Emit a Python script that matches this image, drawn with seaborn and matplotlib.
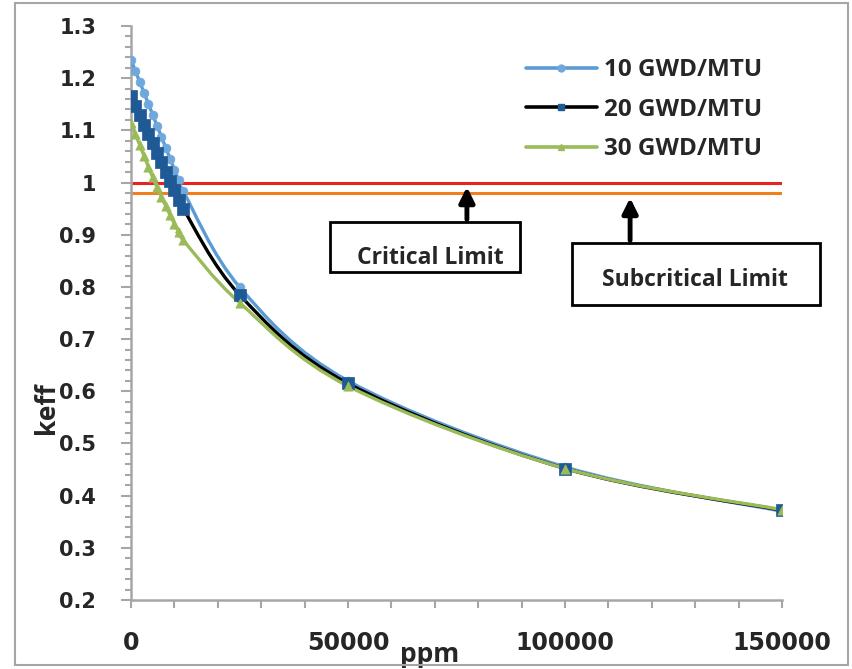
import numpy as np
import pandas as pd
import matplotlib
matplotlib.use("Agg")
import matplotlib.pyplot as plt
import seaborn as sns
from matplotlib.path import Path
from matplotlib.patches import PathPatch, Rectangle
from matplotlib.lines import Line2D
from matplotlib.ticker import MultipleLocator

# values
ppm = [0, 1000, 2000, 3000, 4000, 5000, 6000, 7000, 8000, 9000, 10000, 11000, 12000,
       25000, 50000, 100000, 150000]
keff_10 = [1.235, 1.214, 1.193, 1.172, 1.151, 1.130, 1.109, 1.088, 1.067, 1.046, 1.025, 1.004, 0.984,
           0.800, 0.620, 0.455, 0.370]
keff_20 = [1.165, 1.147, 1.129, 1.111, 1.093, 1.075, 1.057, 1.039, 1.021, 1.003, 0.985, 0.967, 0.950,
           0.785, 0.615, 0.452, 0.372]
keff_30 = [1.115, 1.093, 1.072, 1.051, 1.030, 1.010, 0.991, 0.973, 0.955, 0.938, 0.921, 0.905, 0.890,
           0.770, 0.610, 0.452, 0.373]
series_names = ['10 GWD/MTU', '20 GWD/MTU', '30 GWD/MTU']
x_ticks = [0, 50000, 100000, 150000]
y_ticks = [0.2, 0.3, 0.4, 0.5, 0.6, 0.7, 0.8, 0.9, 1.0, 1.1, 1.2, 1.3]
y_tick_labels = ['0.2', '0.3', '0.4', '0.5', '0.6', '0.7', '0.8', '0.9', '1', '1.1', '1.2', '1.3']
critical_limit = 1.0
subcritical_limit = 0.98

line_colors = {'10 GWD/MTU': '#5b9bd5', '20 GWD/MTU': '#000000', '30 GWD/MTU': '#9bbb59'}
marker_colors = {'10 GWD/MTU': '#6fa8dc', '20 GWD/MTU': '#1f5a96', '30 GWD/MTU': '#9bbb59'}
marker_styles = {'10 GWD/MTU': 'o', '20 GWD/MTU': 's', '30 GWD/MTU': '^'}
marker_sizes = {'10 GWD/MTU': 40, '20 GWD/MTU': 65, '30 GWD/MTU': 45}

df = pd.concat([
    pd.DataFrame({'ppm': ppm, 'keff': vals, 'burnup': name})
    for name, vals in zip(series_names, [keff_10, keff_20, keff_30])
], ignore_index=True)


def smooth_path(x, y):
    """Excel-like smoothed line through the points (cubic bezier segments)."""
    pts = np.column_stack([x, y]).astype(float)
    n = len(pts)
    verts = [pts[0]]
    codes = [Path.MOVETO]
    for i in range(n - 1):
        p0 = pts[i - 1] if i > 0 else pts[i]
        p1 = pts[i]
        p2 = pts[i + 1]
        p3 = pts[i + 2] if i + 2 < n else pts[i + 1]
        c1 = p1 + (p2 - p0) / 6.0
        c2 = p2 - (p3 - p1) / 6.0
        verts += [c1, c2, p2]
        codes += [Path.CURVE4] * 3
    return Path(verts, codes)


sns.set_style("white")
plt.rcParams['font.family'] = ['DejaVu Sans']
label_font = 'Open Sans'

fig = plt.figure(figsize=(8.52, 6.69), dpi=100)
ax = fig.add_axes([131 / 852, 1 - 600 / 669, 651 / 852, 574 / 669])

# outer chart frame
fig.patches.append(Rectangle((15 / 852, 4 / 669), 833 / 852, 662 / 669, transform=fig.transFigure,
                             fill=False, edgecolor='#a6a6a6', lw=1.5))

ax.axhline(critical_limit, color='#e8231f', lw=2.2, zorder=2)
ax.axhline(subcritical_limit, color='#f07f1f', lw=2.2, zorder=2)

for name in series_names:
    sub = df[df['burnup'] == name]
    patch = PathPatch(smooth_path(sub['ppm'], sub['keff']), fill=False,
                      edgecolor=line_colors[name], lw=2.4, zorder=3)
    ax.add_patch(patch)

for name in series_names:
    sub = df[df['burnup'] == name]
    sns.scatterplot(data=sub, x='ppm', y='keff', ax=ax, marker=marker_styles[name],
                    color=marker_colors[name], s=marker_sizes[name], edgecolor=marker_colors[name],
                    linewidth=0.5, zorder=4, legend=False)

ax.set_xlim(0, 150000)
ax.set_ylim(0.2, 1.3)
ax.set_xticks(x_ticks)
ax.set_xticklabels([str(t) for t in x_ticks])
ax.xaxis.set_minor_locator(MultipleLocator(10000))
ax.set_yticks(y_ticks)
ax.set_yticklabels(y_tick_labels)
ax.yaxis.set_minor_locator(MultipleLocator(0.02))

for side in ['top', 'right']:
    ax.spines[side].set_visible(False)
for side in ['left', 'bottom']:
    ax.spines[side].set_color('#a6a6a6')
    ax.spines[side].set_linewidth(1.8)

ax.tick_params(axis='both', which='both', direction='out', color='#a6a6a6', width=1.5,
               bottom=True, left=True)
ax.tick_params(axis='y', which='major', length=7, pad=18, labelsize=15)
ax.tick_params(axis='y', which='minor', length=4)
ax.tick_params(axis='x', which='both', length=6)
ax.tick_params(axis='x', which='major', pad=16, labelsize=17)
for lab in ax.get_xticklabels() + ax.get_yticklabels():
    lab.set_fontweight('bold')

ax.set_xlabel('ppm', fontsize=19, fontweight='bold', family=label_font)
ax.set_ylabel('keff', fontsize=19, fontweight='bold', family=label_font)
ax.xaxis.set_label_coords((430 - 131) / 651, -(641 - 600) / 574)
ax.yaxis.set_label_coords(-(131 - 60) / 651, (600 - 408) / 574)

# annotation boxes with arrows
ax.add_patch(Rectangle((45850, 0.828), 89600 - 45850, 0.924 - 0.828, fill=False,
                       edgecolor='black', lw=2, zorder=5, clip_on=False))
ax.text(68900, 0.855, 'Critical Limit', ha='center', va='center', fontsize=16.5,
        fontweight='bold', family=label_font, zorder=6)
ax.annotate('', xy=(77400, 0.997), xytext=(77400, 0.924),
            arrowprops=dict(arrowstyle='-|>,head_width=0.45,head_length=0.9', color='black', lw=3.5),
            zorder=6)

ax.add_patch(Rectangle((101600, 0.765), 158800 - 101600, 0.884 - 0.765, fill=False,
                       edgecolor='black', lw=2, zorder=5, clip_on=False))
ax.text(130000, 0.813, 'Subcritical Limit', ha='center', va='center', fontsize=16.5,
        fontweight='bold', family=label_font, zorder=6)
ax.annotate('', xy=(115000, 0.976), xytext=(115000, 0.884),
            arrowprops=dict(arrowstyle='-|>,head_width=0.45,head_length=0.9', color='black', lw=3.5),
            zorder=6)

handles = [Line2D([0], [0], color=line_colors[n], lw=2.6, marker=marker_styles[n],
                  markersize=5, markerfacecolor=marker_colors[n], markeredgecolor=marker_colors[n])
           for n in series_names]
ax.legend(handles, series_names, loc='upper left', bbox_to_anchor=(514 / 852, 1 - 46 / 669),
          bbox_transform=fig.transFigure, frameon=False, handlelength=2.9, handletextpad=0.3,
          labelspacing=0.64, borderpad=0, prop={'family': label_font, 'weight': 'bold', 'size': 17.5})

fig.savefig('out.png', dpi=100)
